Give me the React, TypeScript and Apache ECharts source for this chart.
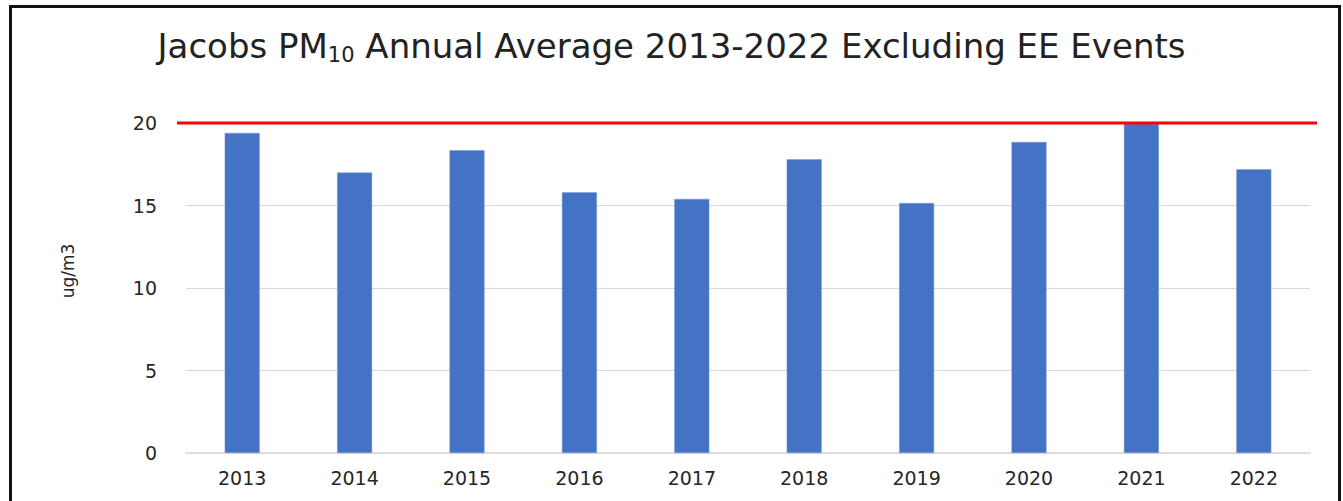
import React, { useEffect, useRef } from "react";
import * as echarts from "echarts";

const years = ["2013", "2014", "2015", "2016", "2017", "2018", "2019", "2020", "2021", "2022"];
const pm10 = [19.4, 17.0, 18.35, 15.8, 15.4, 17.8, 15.15, 18.85, 19.95, 17.2];
const standard = 20;
const yTicks = [0, 5, 10, 15, 20];

const FONT = "DejaVu Sans";

export default function App() {
  const ref = useRef<HTMLDivElement>(null);
  useEffect(() => {
    document.body.style.margin = "0";
    const chart = echarts.init(ref.current!, undefined, { renderer: "svg" });
    chart.setOption({
      animation: false,
      backgroundColor: "#ffffff",
      title: {
        text: "Jacobs PM{sub|10} Annual Average 2013-2022 Excluding EE Events",
        left: "center",
        top: 22,
        textStyle: {
          fontFamily: FONT,
          fontSize: 34,
          fontWeight: "normal",
          color: "#222222",
          rich: {
            sub: {
              fontFamily: FONT,
              fontSize: 21,
              color: "#222222",
              padding: [17, 0, 0, 0],
            },
          },
        },
      },
      grid: { left: 186, right: 33, top: 123, bottom: 48 },
      xAxis: {
        type: "category",
        data: years,
        axisLine: { show: true, lineStyle: { color: "#d9d9d9", width: 1.5 } },
        axisTick: { show: false },
        axisLabel: {
          fontFamily: FONT,
          fontSize: 19,
          color: "#262626",
          margin: 15,
        },
      },
      yAxis: {
        type: "value",
        min: yTicks[0],
        max: yTicks[yTicks.length - 1],
        interval: 5,
        axisLine: { show: false },
        axisTick: { show: false },
        splitLine: { lineStyle: { color: "#d9d9d9", width: 1 } },
        axisLabel: {
          fontFamily: FONT,
          fontSize: 19,
          color: "#262626",
          margin: 29,
        },
      },
      series: [
        {
          type: "bar",
          data: pm10,
          barWidth: 35,
          itemStyle: { color: "#4472c4", borderColor: "#7a98d6", borderWidth: 0.5 },
        },
      ],
    });
    const yPx = chart.convertToPixel({ yAxisIndex: 0 }, standard) as number;
    chart.setOption({
      graphic: [
        {
          type: "rect",
          shape: { x: 10.5, y: 6.5, width: 1329, height: 520 },
          style: { fill: "none", stroke: "#111111", lineWidth: 3 },
          silent: true,
        },
        {
          type: "text",
          x: 68,
          y: 271,
          rotation: Math.PI / 2,
          style: {
            text: "ug/m3",
            fontFamily: FONT,
            fontSize: 17,
            fill: "#262626",
            align: "center",
            verticalAlign: "middle",
          },
          silent: true,
        },
        {
          type: "line",
          shape: { x1: 177, y1: yPx, x2: 1317, y2: yPx },
          style: { stroke: "#ff0000", lineWidth: 3 },
          z: 10,
          silent: true,
        },
      ],
    });
    return () => chart.dispose();
  }, []);
  return <div ref={ref} style={{ width: 1343, height: 501 }} />;
}
